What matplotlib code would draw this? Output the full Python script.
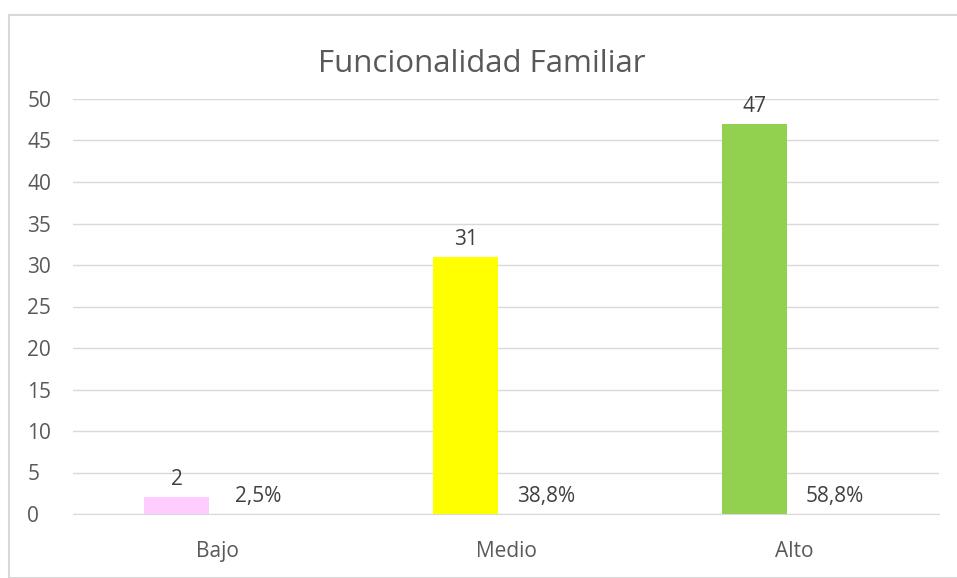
import matplotlib.pyplot as plt
from matplotlib.patches import Rectangle
import numpy as np

categorias = ['Bajo', 'Medio', 'Alto']
frecuencia = [2, 31, 47]
porcentaje = [0.025, 0.388, 0.588]
etiquetas_pct = ['2,5%', '38,8%', '58,8%']
colores = ['#FFCCFF', '#FFFF00', '#92D050']

plt.rcParams['font.family'] = ['Open Sans', 'DejaVu Sans']
gris = '#595959'

fig = plt.figure(figsize=(9.57, 5.78), dpi=100)
W, H = 957, 578
ax = fig.add_axes([73 / W, 1 - 514 / H, (939 - 73) / W, (514 - 99) / H])

x = np.arange(len(categorias))
ancho = 0.225
off = 0.14
b1 = ax.bar(x - off, frecuencia, ancho, color=colores, zorder=3)
# la serie de porcentajes no se ve en el original, solo sus etiquetas
b2 = ax.bar(x + off, porcentaje, ancho, color='none', zorder=3)

for r, v in zip(b1, frecuencia):
    ax.annotate(str(v), (r.get_x() + r.get_width() / 2, r.get_height()),
                xytext=(0, 5), textcoords='offset points', ha='center',
                va='bottom', fontsize=15, color='#404040')
for r, t in zip(b2, etiquetas_pct):
    ax.annotate(t, (r.get_x() + r.get_width() / 2, 0),
                xytext=(0, 5), textcoords='offset points', ha='center',
                va='bottom', fontsize=15, color='#404040')

ax.set_xlim(-0.5, 2.5)
ax.set_ylim(0, 50)
ax.set_yticks(range(0, 51, 5))
ax.set_xticks(x)
ax.set_xticklabels(categorias)
ax.grid(axis='y', color='#D9D9D9', linewidth=1, zorder=0)
for s in ['top', 'right', 'left']:
    ax.spines[s].set_visible(False)
ax.spines['bottom'].set_color('#D9D9D9')
ax.tick_params(axis='both', length=0, labelsize=15, colors=gris)
ax.tick_params(axis='x', pad=19.5)
ax.tick_params(axis='y', pad=33)
for lab in ax.get_yticklabels():
    lab.set_horizontalalignment('left')

fig.text(482 / W, 1 - 64 / H, 'Funcionalidad Familiar', ha='center',
         va='center', fontsize=22.5, color=gris)

fig.patches.append(Rectangle((9 / W, 0), 1, 1 - 15 / H, transform=fig.transFigure,
                             fill=False, edgecolor='#D9D9D9', linewidth=1.5))

fig.savefig('out.png', dpi=100)
